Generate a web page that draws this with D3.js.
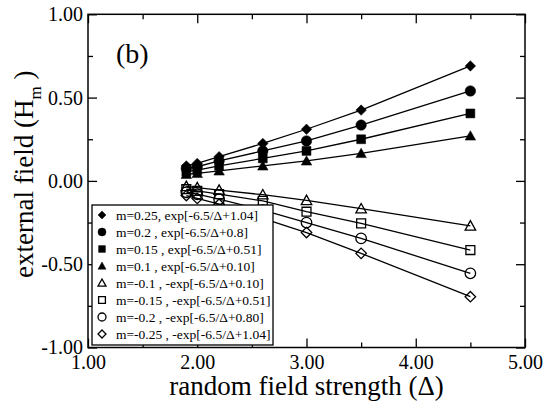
<!DOCTYPE html>
<html><head><meta charset="utf-8">
<script src="https://cdn.jsdelivr.net/npm/d3@7"></script>
<style>body{margin:0;background:#fff}svg{display:block}</style>
</head><body><svg id="c" width="557" height="407"></svg>
<script>
const xValues = [1.9, 2.0, 2.2, 2.6, 3.0, 3.5, 4.5];
const seriesNames = [
  "m=0.25, exp[-6.5/\u0394+1.04]",
  "m=0.2 , exp[-6.5/\u0394+0.8]",
  "m=0.15 , exp[-6.5/\u0394+0.51]",
  "m=0.1 , exp[-6.5/\u0394+0.10]",
  "m=-0.1 , -exp[-6.5/\u0394+0.10]",
  "m=-0.15 , -exp[-6.5/\u0394+0.51]",
  "m=-0.2 , -exp[-6.5/\u0394+0.80]",
  "m=-0.25 , -exp[-6.5/\u0394+1.04]"
];
const s025 = [0.09, 0.105, 0.145, 0.225, 0.31, 0.425, 0.69];
const s020 = [0.075, 0.085, 0.12, 0.18, 0.24, 0.335, 0.54];
const s015 = [0.055, 0.065, 0.09, 0.135, 0.18, 0.25, 0.405];
const s010 = [0.04, 0.045, 0.06, 0.09, 0.12, 0.165, 0.27];
const sm010 = [-0.033, -0.04, -0.055, -0.083, -0.117, -0.167, -0.27];
const sm015 = [-0.05, -0.06, -0.08, -0.12, -0.185, -0.255, -0.415];
const sm020 = [-0.068, -0.08, -0.11, -0.175, -0.25, -0.345, -0.555];
const sm025 = [-0.088, -0.105, -0.14, -0.225, -0.31, -0.435, -0.695];
const seriesValues = [s025, s020, s015, s010, sm010, sm015, sm020, sm025];
const seriesSymbols = ["diamond","circle","square","triangle","triangle","square","circle","diamond"];
const seriesFilled = [true,true,true,true,false,false,false,false];
const xTicks = [1, 2, 3, 4, 5];
const xMinor = [1.5, 2.5, 3.5, 4.5];
const yTicks = [-1, -0.5, 0, 0.5, 1];
const yMinor = [-0.75, -0.25, 0.25, 0.75];

const svg = d3.select("#c");
const L = 88, R = 525, T = 14.3, B = 347.5;
const x = d3.scaleLinear().domain([1, 5]).range([L, R]);
const y = d3.scaleLinear().domain([-1, 1]).range([B, T]);
const font = "'Liberation Serif','Times New Roman',serif";
const fmt = d => d.toFixed(2);

function symPath(type, s) {
  if (type === "circle") return d3.symbol(d3.symbolCircle, Math.PI * s * s / 4)();
  if (type === "square") return d3.symbol(d3.symbolSquare, (s * 0.85) * (s * 0.85))();
  if (type === "diamond") { const h = s / 2; return `M0,${-h}L${h},0L0,${h}L${-h},0Z`; }
  if (type === "triangle") { const h = s / 2; return `M0,${-h}L${h},${h * 0.8}L${-h},${h * 0.8}Z`; }
}

function styleAxis(g) {
  g.attr("font-family", font);
  g.select(".domain").remove();
  g.selectAll("line").attr("stroke", "#000").attr("stroke-width", 1.3);
  g.selectAll("text").attr("font-family", font).attr("font-size", 20).attr("fill", "#000");
}
svg.append("g").attr("transform", `translate(0,${B})`)
  .call(d3.axisBottom(x).tickValues(xTicks).tickFormat(fmt).tickSize(-9).tickPadding(7)).call(styleAxis);
svg.append("g").attr("transform", `translate(0,${B})`)
  .call(d3.axisBottom(x).tickValues(xMinor).tickFormat("").tickSize(-5)).call(styleAxis);
svg.append("g").attr("transform", `translate(0,${T})`)
  .call(d3.axisTop(x).tickValues(xTicks).tickFormat("").tickSize(-9)).call(styleAxis);
svg.append("g").attr("transform", `translate(0,${T})`)
  .call(d3.axisTop(x).tickValues(xMinor).tickFormat("").tickSize(-5)).call(styleAxis);
svg.append("g").attr("transform", `translate(${L},0)`)
  .call(d3.axisLeft(y).tickValues(yTicks).tickFormat(fmt).tickSize(-9).tickPadding(5)).call(styleAxis);
svg.append("g").attr("transform", `translate(${L},0)`)
  .call(d3.axisLeft(y).tickValues(yMinor).tickFormat("").tickSize(-5)).call(styleAxis);
svg.append("g").attr("transform", `translate(${R},0)`)
  .call(d3.axisRight(y).tickValues(yTicks).tickFormat("").tickSize(-9)).call(styleAxis);
svg.append("g").attr("transform", `translate(${R},0)`)
  .call(d3.axisRight(y).tickValues(yMinor).tickFormat("").tickSize(-5)).call(styleAxis);

svg.append("rect").attr("x", L).attr("y", T).attr("width", R - L).attr("height", B - T)
  .attr("fill", "none").attr("stroke", "#000").attr("stroke-width", 1.5);

const line = d3.line().x((d, i) => x(xValues[i])).y(d => y(d));
seriesValues.forEach((vals, k) => {
  svg.append("path").attr("d", line(vals)).attr("fill", "none")
    .attr("stroke", "#000").attr("stroke-width", 1.3);
});
seriesValues.forEach((vals, k) => {
  svg.append("g").selectAll("path").data(vals).join("path")
    .attr("transform", (d, i) => `translate(${x(xValues[i])},${y(d)})`)
    .attr("d", symPath(seriesSymbols[k], 10.5))
    .attr("fill", seriesFilled[k] ? "#000" : "none")
    .attr("stroke", "#000").attr("stroke-width", seriesFilled[k] ? 0.5 : 1.3);
});

const lg = svg.append("g");
lg.append("rect").attr("x", 92).attr("y", 205).attr("width", 181).attr("height", 140)
  .attr("fill", "#fff").attr("stroke", "#000").attr("stroke-width", 1.3);
seriesNames.forEach((name, k) => {
  const cy = 215 + k * 17;
  lg.append("path").attr("transform", `translate(102,${cy})`)
    .attr("d", symPath(seriesSymbols[k], 8))
    .attr("fill", seriesFilled[k] ? "#000" : "none")
    .attr("stroke", "#000").attr("stroke-width", seriesFilled[k] ? 0.5 : 1.3);
  lg.append("text").attr("x", 116).attr("y", cy).attr("dy", "0.35em")
    .attr("font-family", font).attr("font-size", 13.5).text(name);
});

svg.append("text").attr("x", (L + R) / 2).attr("y", 395).attr("text-anchor", "middle")
  .attr("font-family", font).attr("font-size", 27).text("random field strength (\u0394)");
const yt = svg.append("text").attr("transform", "translate(33,278) rotate(-90)")
  .attr("font-family", font).attr("font-size", 27);
yt.append("tspan").text("external field (H");
yt.append("tspan").attr("font-size", 17).attr("dy", 8).text("m");
yt.append("tspan").attr("dy", -8).text(" )");
svg.append("text").attr("x", 116).attr("y", 63).attr("font-family", font)
  .attr("font-size", 28).text("(b)");
</script></body></html>
